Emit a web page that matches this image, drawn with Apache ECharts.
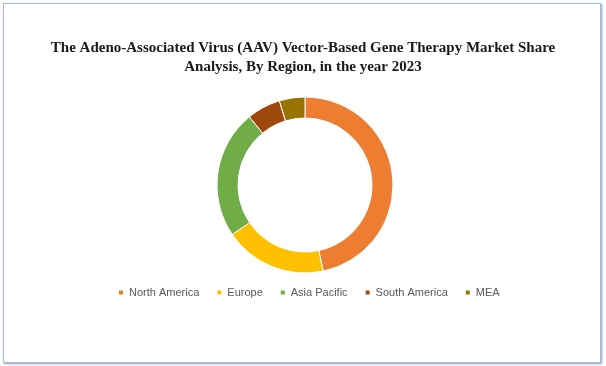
<!DOCTYPE html>
<html><head><meta charset="utf-8">
<script src="https://cdn.jsdelivr.net/npm/echarts@6/dist/echarts.min.js"></script>
<style>
html,body{margin:0;padding:0;background:#fff;}
#frame{position:absolute;left:3px;top:3px;width:596px;height:358px;border:1px solid #a9b8d3;box-shadow:1px 1px 2px #8a9cc0;}
#c{position:absolute;left:0;top:0;width:606px;height:366px;}
</style></head>
<body>
<div id="frame"></div>
<div id="c"></div>
<script>
const titleLines = ["The Adeno-Associated Virus (AAV) Vector-Based Gene Therapy Market Share", "Analysis, By Region, in the year 2023"];
const regions = ["North America", "Europe", "Asia Pacific", "South America", "MEA"];
const shares = [46.7, 18.8, 23.6, 6.2, 4.7];
const colors = ["#ED7D31", "#FFC000", "#70AD47", "#9E480E", "#997300"];

const chart = echarts.init(document.getElementById('c'), null, {renderer: 'canvas'});
chart.setOption({
  animation: false,
  title: {
    text: titleLines.join('\n'),
    left: 'center',
    top: 34,
    textStyle: {fontFamily: 'Liberation Serif', fontWeight: 'bold', fontSize: 15, color: '#1a1a1a', lineHeight: 19}
  },
  legend: {
    data: regions,
    top: 287,
    left: 117,
    padding: 0,
    icon: 'rect',
    itemWidth: 6,
    itemHeight: 6,
    itemGap: 16,
    textStyle: {fontFamily: 'Liberation Sans', fontSize: 11, color: '#595959'}
  },
  series: [{
    type: 'pie',
    center: [305, 185],
    radius: [67, 88],
    startAngle: 90,
    clockwise: true,
    label: {show: false},
    labelLine: {show: false},
    itemStyle: {borderColor: '#fff', borderWidth: 1},
    data: regions.map((r, i) => ({name: r, value: shares[i], itemStyle: {color: colors[i]}}))
  }]
});
</script>
</body></html>
